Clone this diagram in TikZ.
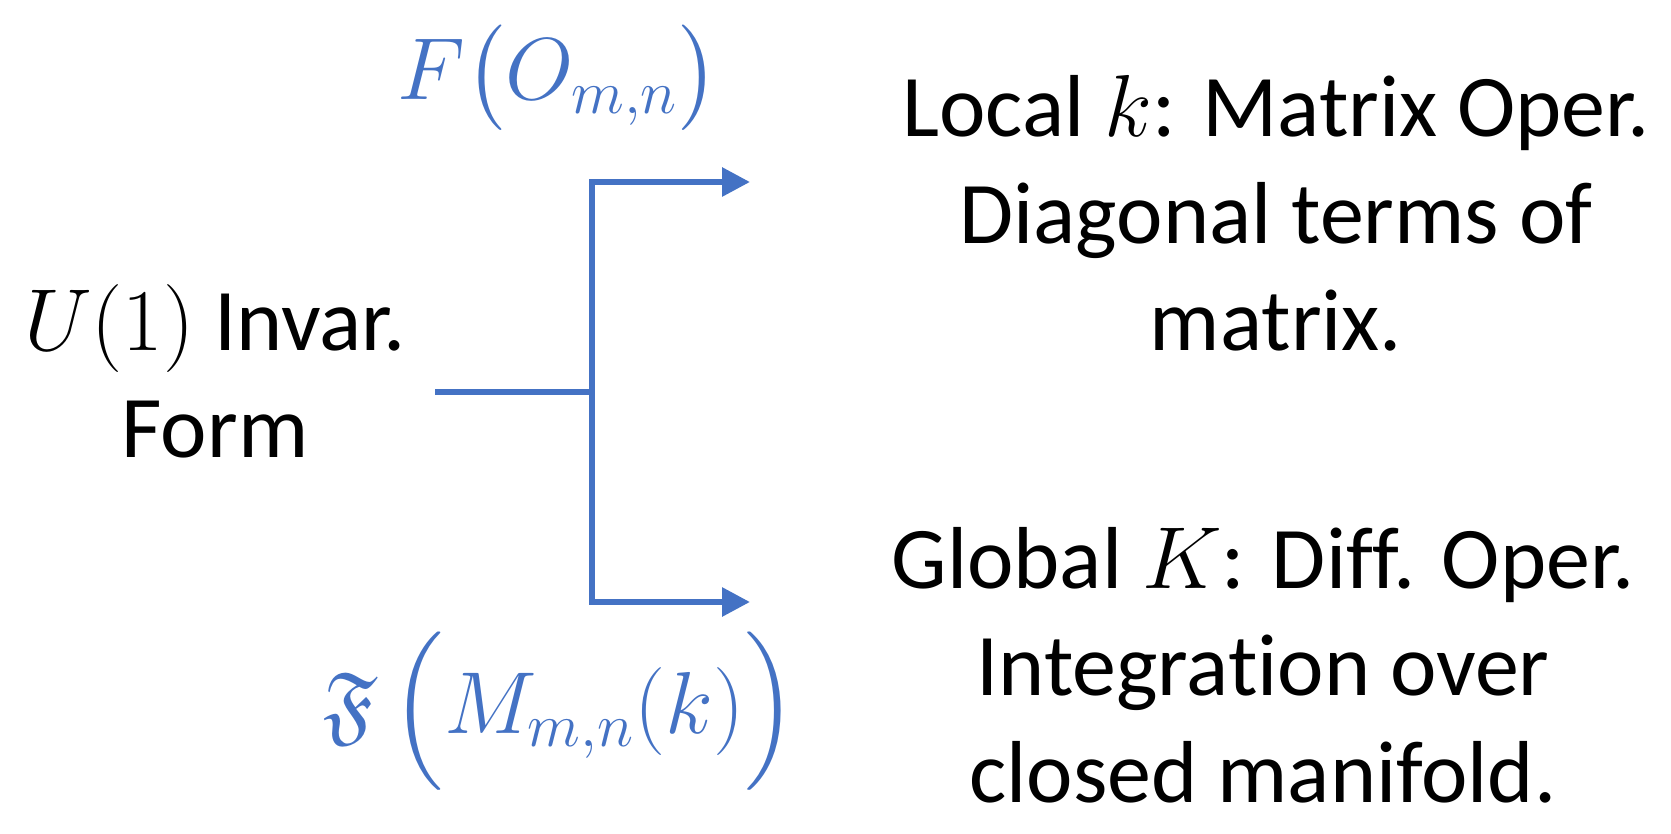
\RequirePackage{fix-cm}
\documentclass[tikz,border=0pt]{standalone}
\usepackage{amssymb}
\usepackage[no-math]{fontspec}
\setmainfont{Carlito}[Ligatures=NoCommon]
\usetikzlibrary{arrows.meta}
\definecolor{oblue}{HTML}{4472C4}
\begin{document}
\begin{tikzpicture}[x=0.5pt,y=-0.5pt,
  txt/.style={font=\fontsize{44}{53.5}\selectfont, align=center, inner sep=0pt},
  lbl/.style={font=\fontsize{44}{53.5}\selectfont, text=oblue, inner sep=0pt, anchor=base},
  conn/.style={draw=oblue, line width=3pt},
  arr/.style={conn, -{Triangle[length=14pt,width=14pt]}}]
\useasboundingbox (0,0) rectangle (1671,834);
% texts
\node[txt] (src) at (215,371) {$U(1)$ Invar.\\Form};
\node[txt] (loc) at (1276,213) {Local $k$: Matrix Oper.\\Diagonal terms of\\matrix.};
\node[txt] (glob) at (1263,665) {Global $K$: Diff. Oper.\\Integration over\\closed manifold.};
\node[lbl] (ftop) at (558,100) {$F{\left(\vrule height 37pt depth 0pt width 0pt O_{m,n}\right)}$};
\node[lbl] (fbot) at (560,733) {$\mathfrak{F}\left(\vrule height 44pt depth 0pt width 0pt M_{m,n}(k)\right)$};
% connector points
\coordinate (s) at (435,392);
\coordinate (j) at (592,392);
\coordinate (tt) at (750,182);
\coordinate (bt) at (750,602);
\draw[conn] (s) -- (j);
\draw[arr] (j) |- (tt);
\draw[arr] (j) |- (bt);
\end{tikzpicture}
\end{document}
